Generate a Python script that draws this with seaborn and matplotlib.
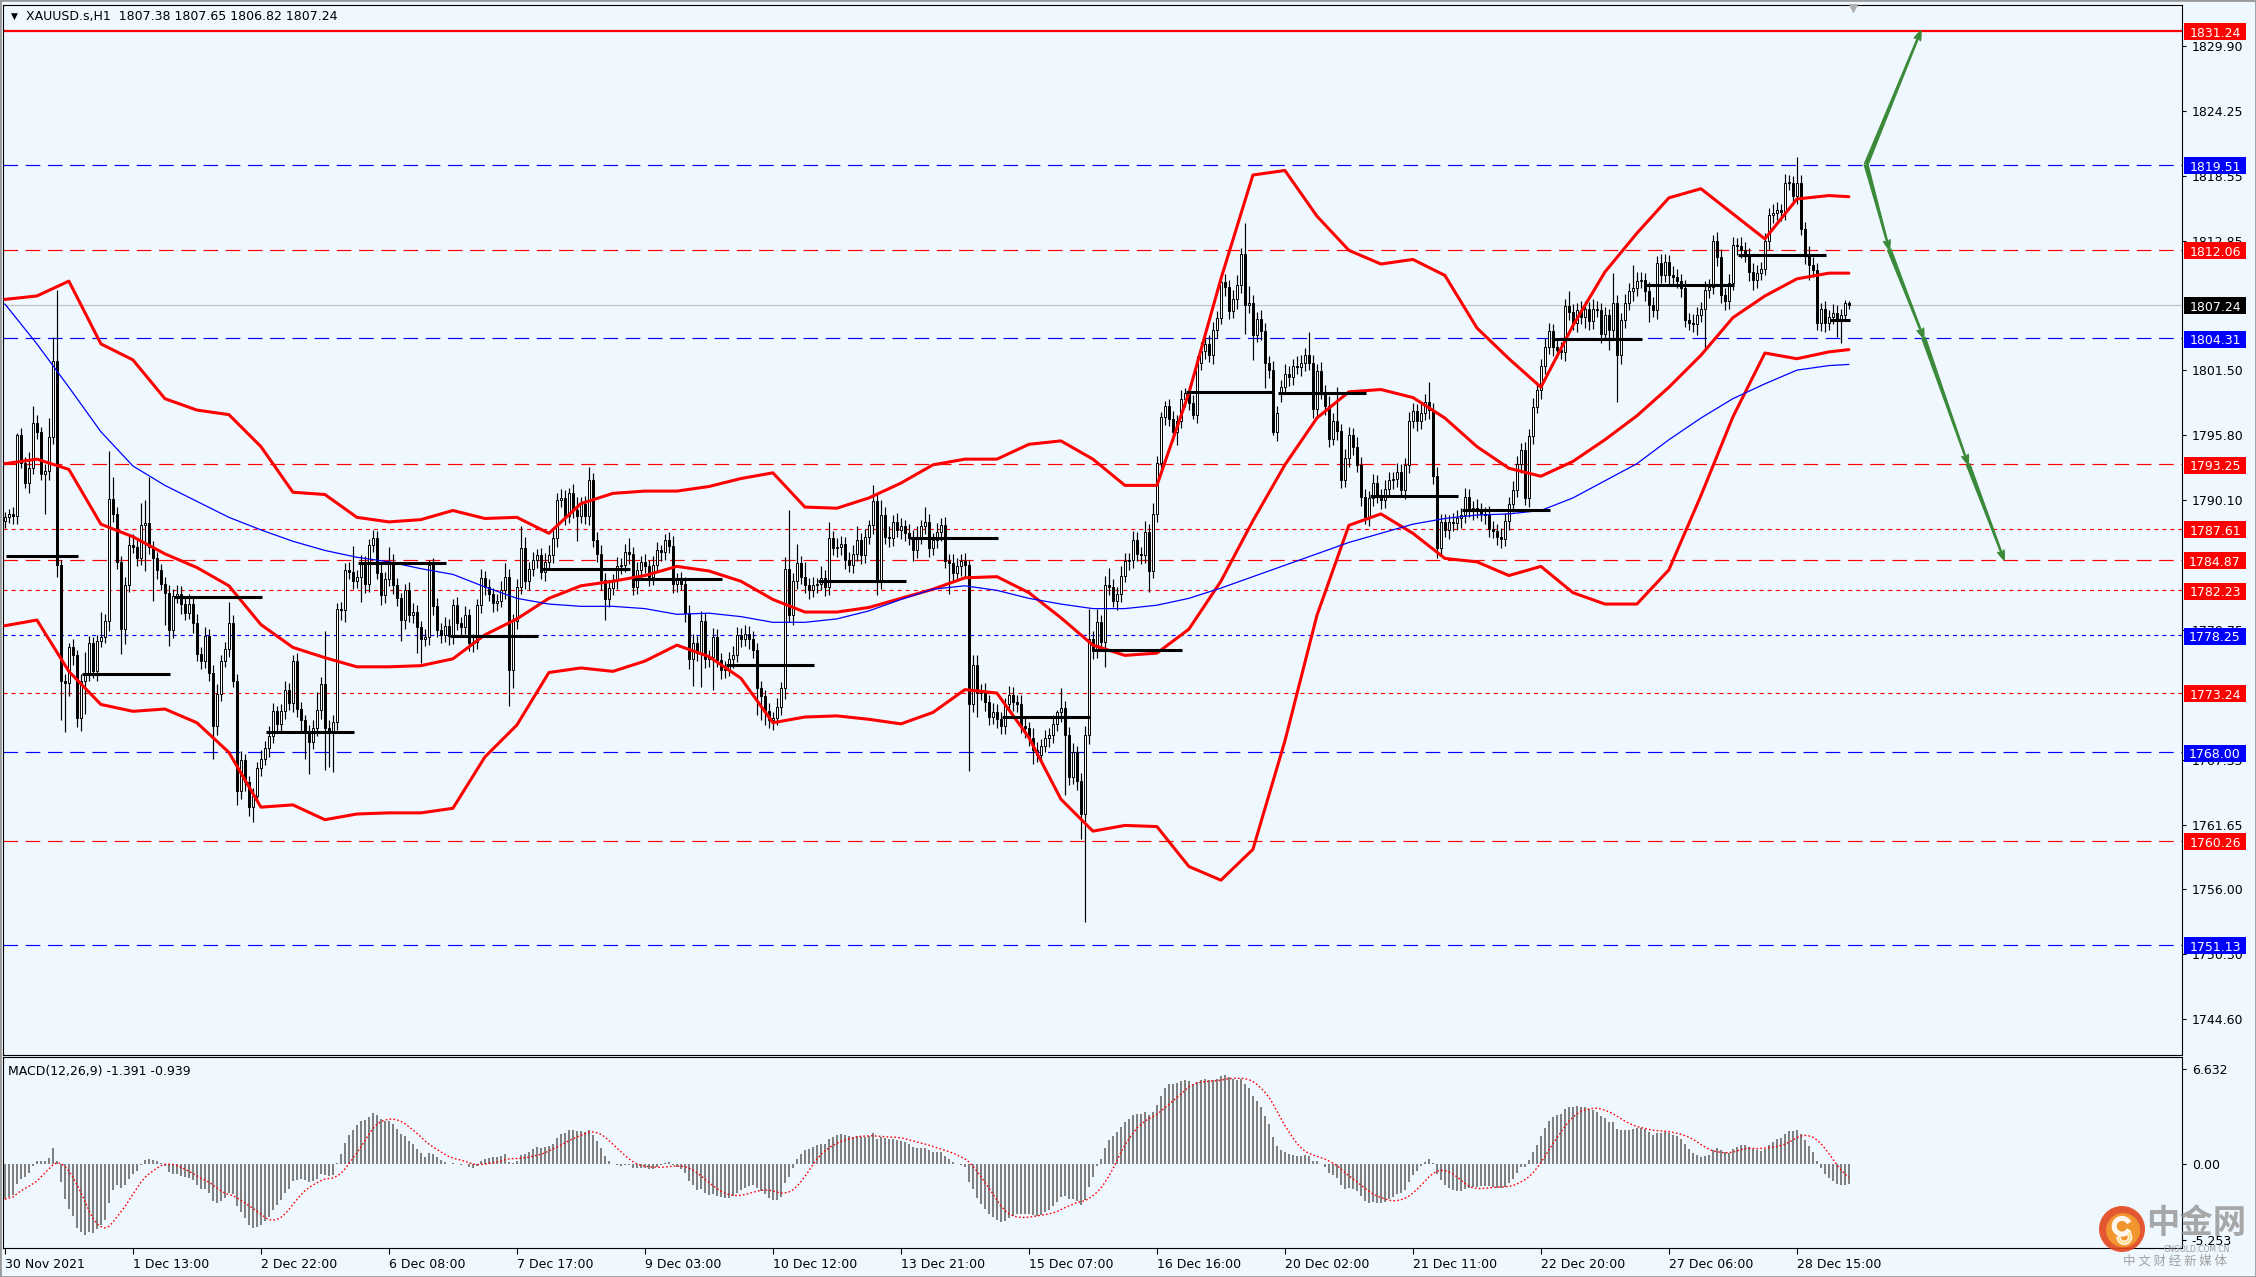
import numpy as np
import pandas as pd
import matplotlib
matplotlib.use("Agg")
import matplotlib.pyplot as plt
import matplotlib.transforms as mtransforms
from matplotlib.patches import Rectangle, Circle, Wedge
import seaborn as sns

# ---------------------------------------------------------------- data
symbol_header = "XAUUSD.s,H1  1807.38 1807.65 1806.82 1807.24"
macd_header = "MACD(12,26,9) -1.391 -0.939"

# H1 closes, bar 0 = 30 Nov 04:00 ... bar 461 = 29 Dec 05:00
closes = [
    1788.6, 1788.9, 1788.7, 1795.8, 1793.4, 1791.6, 1792.9, 1796.9, 1796.1, 1792.4,
    1792.7, 1795.6, 1802.3, 1784.4, 1774.3, 1774.1, 1777.2, 1776.5, 1771.0, 1774.3,
    1775.0, 1777.6, 1775.1, 1777.8, 1778.1, 1779.5, 1790.2, 1788.9, 1784.7, 1778.8,
    1782.7, 1786.2, 1786.0, 1785.0, 1787.9, 1788.1, 1786.0, 1785.0, 1784.0, 1782.8,
    1782.0, 1778.7, 1781.7, 1781.9, 1781.0, 1780.2, 1781.0, 1779.3, 1776.6, 1776.0,
    1778.2, 1775.0, 1770.3, 1773.1, 1776.0, 1777.1, 1779.3, 1774.3, 1764.6, 1767.3,
    1765.4, 1763.2, 1764.2, 1766.6, 1767.4, 1768.4, 1769.4, 1771.6, 1770.5, 1771.6,
    1773.5, 1772.3, 1776.0, 1771.8, 1770.8, 1769.8, 1768.9, 1770.1, 1771.7, 1774.0,
    1770.1, 1769.8, 1770.7, 1780.6, 1780.5, 1784.0, 1783.8, 1783.0, 1783.4, 1784.6,
    1782.8, 1786.2, 1786.8, 1783.7, 1781.8, 1783.2, 1784.7, 1782.7, 1781.5, 1779.6,
    1782.2, 1780.0, 1780.3, 1779.0, 1777.9, 1778.1, 1784.4, 1780.8, 1778.7, 1778.3,
    1779.1, 1778.2, 1780.9, 1779.3, 1779.0, 1780.0, 1777.6, 1777.7, 1780.9, 1783.3,
    1782.5, 1781.9, 1781.1, 1781.3, 1782.2, 1783.4, 1775.2, 1779.5, 1782.5, 1785.9,
    1783.0, 1784.1, 1784.9, 1785.3, 1783.8, 1784.7, 1785.3, 1786.8, 1790.1, 1790.3,
    1788.7, 1790.7, 1789.2, 1788.7, 1789.8, 1788.7, 1791.9, 1786.6, 1785.4, 1783.1,
    1781.4, 1782.4, 1783.1, 1784.3, 1784.4, 1785.6, 1785.4, 1782.5, 1784.0, 1784.7,
    1784.3, 1783.4, 1784.4, 1785.7, 1785.6, 1786.6, 1786.1, 1782.8, 1783.1, 1782.8,
    1780.2, 1776.2, 1777.6, 1776.7, 1779.5, 1776.2, 1776.4, 1778.1, 1776.1, 1775.2,
    1775.3, 1776.2, 1776.5, 1778.3, 1777.9, 1778.4, 1777.9, 1777.0, 1773.6, 1772.9,
    1771.6, 1770.8, 1771.0, 1772.0, 1773.6, 1784.1, 1780.0, 1783.0, 1784.6, 1783.4,
    1782.7, 1782.2, 1782.7, 1782.8, 1783.3, 1782.5, 1786.8, 1785.9, 1786.0, 1786.3,
    1784.9, 1784.4, 1785.4, 1786.6, 1785.3, 1786.9, 1787.9, 1790.0, 1783.0, 1788.8,
    1786.9, 1786.8, 1788.2, 1787.5, 1787.8, 1787.2, 1786.8, 1785.7, 1786.9, 1787.8,
    1788.2, 1785.9, 1786.6, 1787.3, 1787.9, 1784.8, 1784.6, 1783.7, 1784.3, 1784.8,
    1784.4, 1772.2, 1775.7, 1773.2, 1773.4, 1772.4, 1771.1, 1771.5, 1770.9, 1770.3,
    1772.2, 1773.0, 1772.4, 1772.2, 1770.3, 1770.1, 1769.3, 1768.2, 1767.8, 1768.6,
    1769.3, 1769.5, 1770.5, 1771.5, 1771.9, 1769.5, 1765.8, 1768.0, 1765.5, 1762.6,
    1769.5, 1777.9, 1776.9, 1779.4, 1777.7, 1782.7, 1782.5, 1781.3, 1781.9, 1783.5,
    1784.8, 1784.9, 1786.6, 1785.4, 1785.3, 1787.3, 1783.9, 1788.9, 1793.4, 1797.4,
    1798.4, 1797.2, 1796.1, 1797.0, 1799.0, 1799.5, 1798.6, 1797.6, 1802.1, 1803.2,
    1803.8, 1802.8, 1805.0, 1806.1, 1809.2, 1808.8, 1806.7, 1807.7, 1809.0, 1811.7,
    1807.2, 1807.4, 1804.6, 1806.0, 1804.9, 1802.1, 1801.5, 1796.1, 1797.7, 1800.0,
    1801.2, 1800.9, 1801.9, 1801.8, 1802.1, 1802.8, 1802.1, 1798.1, 1801.4, 1799.6,
    1798.4, 1795.5, 1797.0, 1796.2, 1791.9, 1793.8, 1795.8, 1794.8, 1793.2, 1790.4,
    1788.6, 1790.3, 1791.6, 1790.5, 1790.1, 1791.1, 1791.9, 1792.0, 1792.6, 1791.0,
    1793.2, 1797.0, 1797.9, 1797.0, 1797.7, 1798.7, 1798.0, 1792.2, 1785.9, 1788.2,
    1787.5, 1788.2, 1788.1, 1788.5, 1788.8, 1790.4, 1789.2, 1789.4, 1789.2, 1788.9,
    1788.8, 1787.6, 1787.4, 1786.9, 1786.7, 1788.3, 1789.8, 1791.0, 1793.3, 1794.5,
    1790.3, 1795.7, 1798.3, 1799.8, 1801.9, 1803.5, 1804.9, 1803.5, 1803.3, 1803.1,
    1807.1, 1806.6, 1805.6, 1806.8, 1806.2, 1806.9, 1805.8, 1806.9, 1806.8, 1804.7,
    1806.3, 1805.0, 1807.4, 1802.8, 1805.9, 1807.4, 1808.4, 1808.7, 1809.3, 1809.4,
    1808.4, 1807.2, 1806.8, 1810.9, 1809.8, 1811.0, 1809.8, 1809.7, 1809.3, 1808.7,
    1805.9, 1805.6, 1805.5, 1806.3, 1806.9, 1808.5, 1808.8, 1812.8, 1811.4, 1808.1,
    1807.6, 1809.1, 1812.5, 1812.4, 1812.0, 1811.6, 1810.1, 1809.4, 1810.0, 1810.4,
    1812.8, 1815.1, 1815.3, 1815.5, 1815.4, 1817.9, 1817.9, 1816.8, 1817.9, 1813.9,
    1811.6, 1810.7, 1810.3, 1805.6, 1806.9, 1805.6, 1806.2, 1806.5, 1805.9, 1806.3,
    1807.38, 1807.24,
]

# upper shadow length above the body
hi_wick = [
    0.5, 0.4, 0.6, 0.2, 0.6, 0.5, 1.4, 1.5, 0.7, 0.4,
    0.6, 1.7, 2.1, 6.2, 0.5, 0.6, 0.4, 0.7, 0.5, 0.6,
    1.8, 0.6, 0.5, 0.5, 2.2, 0.6, 4.2, 1.9, 0.6, 0.5,
    0.7, 0.8, 0.9, 0.6, 2.0, 2.0, 4.0, 0.5, 0.6, 0.5,
    0.6, 0.7, 0.6, 0.8, 0.7, 0.5, 0.9, 0.6, 0.8, 0.6,
    0.8, 0.6, 0.7, 0.9, 0.5, 0.6, 1.9, 0.7, 0.6, 0.8,
    0.6, 0.5, 0.7, 0.6, 0.8, 0.6, 0.9, 0.7, 0.5, 0.6,
    0.8, 0.6, 0.5, 0.7, 0.6, 0.5, 0.6, 0.7, 1.6, 0.6,
    4.6, 0.7, 0.6, 0.5, 0.6, 0.6, 0.7, 2.3, 0.6, 0.7,
    0.6, 0.5, 0.7, 0.6, 0.8, 0.6, 1.3, 0.7, 0.6, 0.5,
    0.6, 0.7, 0.8, 0.6, 0.5, 0.7, 0.5, 0.6, 0.7, 0.6,
    0.8, 0.6, 0.5, 0.7, 0.6, 0.8, 0.6, 0.7, 0.5, 0.8,
    0.6, 0.7, 0.5, 0.6, 0.8, 1.2, 0.7, 0.6, 0.7, 1.9,
    1.0, 0.6, 0.7, 0.5, 0.6, 0.8, 0.9, 0.7, 0.6, 0.8,
    0.7, 0.5, 0.8, 1.2, 0.6, 0.7, 1.1, 0.6, 0.7, 0.8,
    0.6, 0.7, 0.5, 0.8, 0.6, 0.7, 1.2, 0.6, 0.7, 0.5,
    0.7, 0.6, 0.8, 0.7, 0.5, 0.5, 0.7, 0.9, 0.6, 0.7,
    0.6, 0.7, 0.8, 0.6, 0.9, 0.7, 0.6, 0.8, 0.7, 0.6,
    0.7, 0.6, 0.8, 0.7, 0.6, 0.8, 0.7, 0.7, 0.6, 0.7,
    0.6, 0.7, 0.5, 0.8, 0.6, 1.0, 5.1, 0.7, 1.7, 0.6,
    1.3, 0.6, 0.7, 0.5, 1.0, 0.7, 1.4, 0.6, 0.8, 0.7,
    0.6, 0.7, 0.8, 1.2, 0.6, 0.7, 0.5, 1.4, 0.7, 1.3,
    0.7, 0.9, 0.6, 0.8, 0.7, 0.6, 0.8, 0.7, 0.9, 0.6,
    1.3, 0.7, 0.6, 0.8, 0.6, 0.7, 0.6, 0.8, 0.7, 0.6,
    0.7, 0.5, 0.8, 0.8, 0.6, 0.7, 0.6, 0.8, 0.7, 0.6,
    0.6, 0.8, 0.7, 0.6, 0.8, 0.7, 0.6, 0.8, 0.7, 0.6,
    0.7, 0.6, 0.8, 0.2, 1.7, 0.6, 0.7, 0.8, 0.6, 0.7,
    0.8, 2.7, 0.7, 1.2, 0.6, 0.8, 1.5, 0.7, 0.6, 0.8,
    0.7, 0.6, 0.8, 0.7, 0.6, 1.0, 0.7, 1.0, 0.6, 0.4,
    0.4, 0.6, 0.7, 0.6, 0.8, 0.4, 0.6, 0.7, 0.6, 0.8,
    0.6, 0.8, 0.7, 0.6, 0.8, 0.7, 0.6, 0.8, 0.8, 0.5,
    2.7, 1.5, 0.7, 0.6, 0.8, 0.7, 0.6, 0.8, 0.7, 0.6,
    0.8, 0.7, 0.6, 0.8, 0.7, 0.6, 2.0, 0.7, 0.6, 0.8,
    0.6, 0.8, 0.7, 3.0, 0.6, 0.8, 0.7, 0.6, 0.8, 0.7,
    0.7, 0.6, 0.8, 0.7, 0.6, 0.8, 0.7, 0.6, 0.8, 0.7,
    0.6, 0.8, 0.7, 0.6, 0.8, 0.7, 1.8, 0.6, 0.8, 0.7,
    0.7, 0.6, 0.8, 0.7, 0.6, 0.8, 0.7, 0.6, 0.8, 0.7,
    0.6, 0.8, 0.7, 0.6, 0.8, 0.7, 0.6, 0.8, 0.7, 0.6,
    0.7, 0.6, 0.8, 0.7, 0.6, 0.8, 0.7, 0.6, 0.8, 0.7,
    0.6, 1.3, 0.7, 0.6, 0.8, 0.7, 0.6, 0.8, 0.7, 0.6,
    0.7, 0.6, 2.6, 0.7, 0.6, 0.8, 0.7, 2.0, 0.8, 0.7,
    0.6, 0.8, 0.7, 0.6, 0.8, 0.7, 0.6, 0.8, 0.7, 0.6,
    0.7, 0.6, 0.8, 0.7, 0.6, 0.8, 0.7, 0.5, 0.8, 0.7,
    0.6, 0.8, 0.7, 0.6, 0.8, 0.7, 0.6, 0.8, 0.7, 0.6,
    0.7, 0.6, 0.8, 0.7, 0.6, 0.8, 0.7, 0.6, 2.3, 0.7,
    0.6, 0.8, 0.7, 0.6, 0.5, 0.7, 0.6, 0.8, 0.7, 0.6,
    0.27, 0.14,
]

# lower shadow length below the body
lo_wick = [
    0.6, 0.5, 0.7, 0.7, 0.5, 0.4, 0.9, 0.5, 0.6, 0.5,
    3.5, 0.8, 0.6, 1.0, 3.5, 4.3, 1.2, 0.8, 0.8, 1.1,
    2.9, 0.7, 0.6, 0.8, 0.6, 0.5, 0.9, 0.7, 0.6, 2.2,
    1.3, 0.6, 0.5, 0.7, 0.6, 4.0, 0.6, 3.7, 0.8, 0.6,
    2.8, 1.4, 0.7, 0.6, 0.9, 0.6, 0.5, 0.8, 0.6, 0.7,
    0.6, 0.7, 2.9, 0.8, 0.6, 0.5, 0.7, 0.6, 1.2, 0.7,
    0.8, 0.8, 1.3, 0.6, 0.7, 0.5, 0.8, 0.6, 0.7, 0.6,
    0.7, 0.6, 0.8, 0.7, 0.9, 2.4, 2.8, 0.6, 0.7, 0.8,
    3.6, 3.1, 3.5, 0.7, 0.9, 1.1, 0.6, 0.7, 0.6, 2.2,
    0.8, 0.7, 0.6, 0.5, 0.9, 0.7, 0.6, 0.8, 0.7, 1.8,
    0.8, 0.6, 0.7, 2.3, 2.1, 0.6, 0.7, 0.8, 0.6, 0.7,
    0.6, 0.8, 0.7, 0.6, 0.9, 0.6, 0.7, 0.8, 0.6, 0.7,
    0.7, 0.6, 0.8, 0.7, 0.6, 0.8, 3.1, 1.6, 0.7, 0.6,
    0.7, 0.8, 0.6, 0.7, 0.6, 0.8, 0.6, 0.7, 0.8, 0.6,
    0.8, 0.6, 0.7, 2.2, 0.6, 0.7, 0.8, 0.6, 0.7, 0.9,
    1.8, 0.7, 0.6, 0.8, 0.7, 0.6, 0.9, 0.7, 0.6, 0.8,
    0.6, 0.8, 0.7, 0.6, 0.8, 0.7, 0.6, 0.8, 0.7, 0.6,
    0.8, 0.9, 2.4, 0.7, 3.0, 0.8, 0.7, 2.9, 0.6, 0.8,
    0.7, 0.6, 0.8, 0.6, 0.7, 0.6, 0.8, 0.7, 2.3, 2.1,
    1.2, 0.7, 0.8, 0.6, 0.7, 0.9, 0.6, 0.8, 0.7, 0.6,
    0.7, 0.8, 0.6, 0.7, 0.6, 0.8, 0.7, 0.6, 0.8, 0.7,
    0.8, 0.6, 0.7, 0.6, 0.8, 0.7, 0.6, 0.8, 1.2, 0.7,
    0.6, 0.8, 0.7, 0.6, 0.8, 0.7, 0.6, 0.9, 0.7, 0.6,
    0.7, 0.8, 0.6, 0.7, 0.8, 0.6, 2.7, 0.7, 0.6, 0.8,
    1.1, 5.8, 0.7, 2.1, 0.6, 0.8, 0.7, 0.6, 0.8, 0.7,
    0.7, 0.6, 0.8, 0.7, 0.6, 0.8, 0.7, 1.2, 0.6, 0.7,
    0.6, 0.8, 0.7, 0.6, 0.8, 5.2, 0.7, 0.6, 0.8, 2.2,
    9.5, 0.8, 0.7, 0.6, 0.8, 2.2, 0.7, 0.6, 0.8, 0.7,
    0.6, 0.8, 0.7, 0.6, 0.8, 0.7, 1.8, 0.6, 0.7, 0.6,
    0.7, 0.6, 0.8, 1.2, 0.6, 0.7, 0.6, 0.4, 0.7, 0.6,
    0.7, 0.6, 0.8, 0.7, 0.6, 0.8, 0.7, 0.6, 0.8, 0.7,
    2.5, 0.7, 2.2, 0.6, 0.8, 2.2, 0.7, 0.3, 0.8, 0.7,
    0.6, 0.8, 0.7, 0.6, 0.8, 0.7, 0.6, 0.8, 0.7, 0.6,
    0.8, 0.7, 0.6, 0.8, 0.7, 0.6, 0.8, 0.7, 0.6, 0.8,
    0.6, 0.8, 0.7, 0.6, 0.8, 0.7, 0.6, 0.8, 0.7, 0.6,
    0.8, 0.7, 0.6, 0.8, 0.7, 0.6, 0.8, 0.7, 0.9, 0.6,
    0.6, 0.8, 0.7, 0.6, 0.8, 0.7, 0.6, 0.8, 0.7, 0.6,
    0.8, 0.7, 0.6, 0.7, 0.8, 0.6, 0.8, 0.7, 0.6, 0.8,
    0.6, 0.8, 0.7, 0.6, 0.8, 0.7, 0.6, 0.8, 0.7, 0.6,
    0.8, 0.7, 0.6, 0.8, 0.7, 1.0, 0.8, 0.7, 0.6, 0.8,
    0.6, 1.7, 0.7, 4.1, 0.8, 0.7, 0.6, 0.8, 0.7, 0.6,
    0.8, 1.5, 0.6, 0.8, 0.7, 0.6, 0.8, 0.7, 0.6, 0.8,
    0.6, 0.6, 0.7, 0.9, 0.6, 3.6, 0.7, 0.6, 0.8, 0.7,
    0.8, 0.7, 0.6, 0.8, 0.7, 0.6, 0.8, 0.9, 0.7, 0.6,
    0.6, 0.8, 0.7, 0.6, 0.8, 0.7, 0.6, 0.8, 0.7, 0.6,
    0.8, 1.3, 0.6, 0.6, 0.7, 0.8, 0.6, 0.7, 1.5, 2.0,
    0.42, 0.42,
]

first_open = 1788.3
gap_open_bars = [319]
gap_open_prices = [1799.4]

# Bollinger bands (red) and slow moving average (blue), read every 8 bars
band_bars = [0, 8, 16, 24, 32, 40, 48, 56, 64, 72, 80, 88, 96, 104, 112, 120, 128, 136,
             144, 152, 160, 168, 176, 184, 192, 200, 208, 216, 224, 232, 240, 248, 256,
             264, 272, 280, 288, 296, 304, 312, 320, 328, 336, 344, 352, 360, 368, 376,
             384, 392, 400, 408, 416, 424, 432, 440, 448, 456, 461]
bb_upper = [1807.7, 1808.0, 1809.3, 1803.8, 1802.4, 1799.0, 1798.0, 1797.6, 1794.8, 1790.8,
            1790.6, 1788.6, 1788.2, 1788.4, 1789.2, 1788.5, 1788.6, 1787.2, 1789.8, 1790.7,
            1790.9, 1790.9, 1791.3, 1792.0, 1792.5, 1789.5, 1789.4, 1790.3, 1791.6, 1793.2,
            1793.7, 1793.7, 1795.0, 1795.3, 1793.7, 1791.4, 1791.4, 1799.5, 1809.5, 1818.6,
            1819.0, 1815.0, 1812.0, 1810.8, 1811.2, 1809.8, 1805.2, 1802.5, 1800.0, 1805.4,
            1810.1, 1813.5, 1816.6, 1817.4, 1815.2, 1813.0, 1816.5, 1816.8, 1816.7]
bb_middle = [1793.3, 1793.7, 1792.8, 1788.0, 1786.9, 1785.4, 1784.2, 1782.6, 1779.2, 1777.2,
             1776.3, 1775.5, 1775.5, 1775.6, 1776.2, 1778.3, 1779.7, 1781.5, 1782.6, 1783.0,
             1783.5, 1784.3, 1783.9, 1783.0, 1781.4, 1780.3, 1780.3, 1780.7, 1781.5, 1782.3,
             1783.3, 1783.4, 1782.0, 1779.8, 1777.4, 1776.5, 1776.7, 1778.8, 1783.0, 1788.3,
             1793.2, 1797.3, 1799.6, 1799.8, 1799.1, 1797.3, 1794.8, 1792.9, 1792.2, 1793.5,
             1795.4, 1797.5, 1800.0, 1802.8, 1806.1, 1808.0, 1809.5, 1810.0, 1810.0]
bb_lower = [1779.1, 1779.6, 1775.1, 1772.2, 1771.6, 1771.8, 1770.6, 1768.0, 1763.2, 1763.4,
            1762.1, 1762.6, 1762.7, 1762.7, 1763.1, 1767.6, 1770.4, 1775.0, 1775.4, 1775.1,
            1776.0, 1777.4, 1776.4, 1774.5, 1770.6, 1771.1, 1771.2, 1770.9, 1770.5, 1771.5,
            1773.5, 1773.2, 1769.3, 1763.9, 1761.1, 1761.6, 1761.5, 1758.0, 1756.8, 1759.5,
            1769.0, 1780.0, 1787.9, 1788.9, 1787.2, 1785.0, 1784.7, 1783.5, 1784.3, 1782.0,
            1781.0, 1781.0, 1784.0, 1790.5, 1797.4, 1803.0, 1802.5, 1803.1, 1803.3]
ma_blue = [1807.3, 1803.8, 1800.0, 1796.1, 1793.1, 1791.4, 1790.0, 1788.6, 1787.5, 1786.5,
           1785.7, 1785.1, 1784.7, 1784.1, 1783.6, 1782.5, 1781.5, 1781.0, 1780.8, 1780.8,
           1780.6, 1780.1, 1780.2, 1779.9, 1779.4, 1779.4, 1779.7, 1780.4, 1781.4, 1782.3,
           1782.6, 1782.2, 1781.5, 1781.0, 1780.6, 1780.6, 1780.9, 1781.5, 1782.4, 1783.4,
           1784.4, 1785.4, 1786.4, 1787.2, 1788.0, 1788.5, 1788.8, 1788.9, 1789.2, 1790.3,
           1791.8, 1793.3, 1795.4, 1797.3, 1799.0, 1800.3, 1801.5, 1801.9, 1802.0]

# daily level segments (one per trading day)
day_start_bars = [0, 20, 43, 66, 89, 112, 135, 158, 181, 204, 227, 250, 273, 296, 319,
                  342, 365, 388, 411, 434, 457]
day_levels = [1785.2, 1774.9, 1781.6, 1769.8, 1784.6, 1778.2, 1784.1, 1783.2, 1775.7, 1783.0,
              1786.8, 1771.1, 1777.0, 1799.6, 1799.5, 1790.5, 1789.2, 1804.2, 1809.0, 1811.6,
              1805.9]

# horizontal price levels
level_prices = [1831.24, 1819.51, 1812.06, 1807.24, 1804.31, 1793.25, 1787.61, 1784.87,
                1782.23, 1778.25, 1773.24, 1768.00, 1760.26, 1751.13]
level_colors = ["#FF0000", "#0000FF", "#FF0000", "#C0C0C0", "#0000FF", "#FF0000", "#FF0000",
                "#FF0000", "#FF0000", "#0000FF", "#FF0000", "#0000FF", "#FF0000", "#0000FF"]
level_styles = ["solid", "dashed", "dashed", "solid", "dashed", "dashed", "dotted", "dashed",
                "dotted", "dotted", "dotted", "dashed", "dashed", "dashed"]
label_colors = ["#FF0000", "#0000FF", "#FF0000", "#000000", "#0000FF", "#FF0000", "#FF0000",
                "#FF0000", "#FF0000", "#0000FF", "#FF0000", "#0000FF", "#FF0000", "#0000FF"]

# price-scale labels shown by the reference (1807.15, 1784.40, 1773.05 are hidden there)
price_ticks = [1829.90, 1824.25, 1818.55, 1812.85, 1801.50, 1795.80, 1790.10,
               1778.75, 1767.35, 1761.65, 1756.00, 1750.30, 1744.60]
macd_ticks = [6.632, 0.0, -5.253]
macd_tick_labels = ["6.632", "0.00", "-5.253"]

time_tick_bars = [0, 32, 64, 96, 128, 160, 192, 224, 256, 288, 320, 352, 384, 416, 448]
time_tick_labels = ["30 Nov 2021", "1 Dec 13:00", "2 Dec 22:00", "6 Dec 08:00", "7 Dec 17:00",
                    "9 Dec 03:00", "10 Dec 12:00", "13 Dec 21:00", "15 Dec 07:00",
                    "16 Dec 16:00", "20 Dec 02:00", "21 Dec 11:00", "22 Dec 20:00",
                    "27 Dec 06:00", "28 Dec 15:00"]

# forecast arrows (bar, price)
arrow_up_bars = [465.3, 479.0]
arrow_up_prices = [1819.51, 1831.24]
arrow_down_bars = [465.3, 471.1, 479.7, 490.8, 499.8]
arrow_down_prices = [1819.51, 1812.06, 1804.31, 1793.25, 1784.87]

ema_fast_seed = 1789.0
ema_slow_seed = 1791.6

# ---------------------------------------------------------------- style
sns.set_theme(style="white")
plt.rcParams["font.family"] = ["DejaVu Sans"]
plt.rcParams["lines.scale_dashes"] = False
plt.rcParams["axes.linewidth"] = 0.8

BG = "#F0F8FF"
RED = "#FF0000"
BLUE = "#0000FF"
GREEN = "#3A8A3A"
W, H = 2256, 1277

def fx(px):
    return px / W

def fy(py):
    return 1 - py / H

# ---------------------------------------------------------------- derived series
n = min(len(closes), len(hi_wick), len(lo_wick))
bars = np.arange(n)
c = np.array(closes[:n], dtype=float)
o = np.empty(n)
o[0] = first_open
o[1:] = c[:-1]
for b, p in zip(gap_open_bars, gap_open_prices):
    if b < n:
        o[b] = p
body_top = np.maximum(o, c)
body_bot = np.minimum(o, c)
highs = body_top + np.array(hi_wick[:n])
lows = body_bot - np.array(lo_wick[:n])

af, aslow = 2.0 / 13.0, 2.0 / 27.0
ef, es = ema_fast_seed, ema_slow_seed
macd = np.empty(n)
for t in range(n):
    ef = af * c[t] + (1 - af) * ef
    es = aslow * c[t] + (1 - aslow) * es
    macd[t] = ef - es
signal = pd.Series(macd).rolling(9, min_periods=1).mean().values

# ---------------------------------------------------------------- figure
fig = plt.figure(figsize=(W / 100, H / 100), dpi=100, facecolor=BG)
x_left, x_right = 3, 2182
ax = fig.add_axes([fx(x_left), fy(1055), fx(x_right) - fx(x_left), fy(5) - fy(1055)])
ax2 = fig.add_axes([fx(x_left), fy(1248), fx(x_right) - fx(x_left), fy(1057) - fy(1248)])
for a in (ax, ax2):
    a.set_facecolor(BG)
    for s in a.spines.values():
        s.set_color("black")
        s.set_linewidth(0.8)
    a.grid(False)

xmin = (x_left - 4.9) / 4.0
xmax = (x_right - 4.9) / 4.0
ymin, ymax = 1741.48, 1833.50
ax.set_xlim(xmin, xmax)
ax.set_ylim(ymin, ymax)
ax2.set_xlim(xmin, xmax)
ax2.set_ylim(-5.82, 7.45)

# horizontal levels
dash_map = {"solid": "-", "dashed": (0, (10.5, 5.5)), "dotted": (0, (2.9, 2.9))}
for p, col, st in zip(level_prices, level_colors, level_styles):
    lw = 1.6 if (st == "solid" and col == RED) else 0.85
    ax.axhline(p, color=col, linewidth=lw, linestyle=dash_map[st], zorder=1)

# candles
ax.vlines(bars, lows, highs, color="black", linewidth=0.85, zorder=3)
faces = ["white" if cc >= oo else "black" for oo, cc in zip(o, c)]
ax.bar(bars, np.maximum(body_top - body_bot, 0.07), bottom=body_bot, width=0.55,
       color=faces, edgecolor="black", linewidth=0.7, zorder=4)

# bands and moving average
for vals in (bb_upper, bb_middle, bb_lower):
    sns.lineplot(x=band_bars, y=vals, ax=ax, color=RED, linewidth=2.2, zorder=5,
                 sort=False, estimator=None, legend=False)
sns.lineplot(x=band_bars, y=ma_blue, ax=ax, color=BLUE, linewidth=0.9, zorder=5,
             sort=False, estimator=None, legend=False)

# daily level segments
seg_start = [max(s - 0.7, 0.2) for s in day_start_bars]
seg_end = [s - 1.7 for s in day_start_bars[1:]] + [n - 0.7]
ax.hlines(day_levels, seg_start, seg_end, color="black", linewidth=2.2, zorder=6)

# forecast arrows
astyle = "fancy,head_length=0.9,head_width=0.65,tail_width=0.35"
ax.annotate("", xy=(arrow_up_bars[1], arrow_up_prices[1]),
            xytext=(arrow_up_bars[0], arrow_up_prices[0]),
            arrowprops=dict(arrowstyle=astyle, color=GREEN, mutation_scale=7.5,
                            shrinkA=0, shrinkB=0), annotation_clip=False, zorder=7)
for k in range(len(arrow_down_bars) - 1):
    ax.annotate("", xy=(arrow_down_bars[k + 1], arrow_down_prices[k + 1]),
                xytext=(arrow_down_bars[k], arrow_down_prices[k]),
                arrowprops=dict(arrowstyle=astyle, color=GREEN, mutation_scale=7.5,
                                shrinkA=0, shrinkB=0), annotation_clip=False, zorder=7)

# axis ticks main
ax.set_xticks([])
ax.yaxis.tick_right()
ax.set_yticks(price_ticks)
ax.set_yticklabels([f"{t:.2f}" for t in price_ticks])
ax.tick_params(axis="y", right=True, left=False, length=3, width=0.8, pad=4,
               labelsize=9, colors="black")
ax.set_xlabel("")
ax.set_ylabel("")

# price label boxes on the right
tr = mtransforms.blended_transform_factory(fig.transFigure, ax.transData)
ppp = (1055 - 5) / (ymax - ymin)
bh = 17.0 / ppp
boff = 1.0 / ppp
for p, col in zip(level_prices, label_colors):
    ax.add_patch(Rectangle((fx(2184), p - bh / 2 - boff), 62 / W, bh, transform=tr,
                           facecolor=col, edgecolor="none", zorder=10, clip_on=False))
    ax.text(fx(2215), p - boff, f"{p:.2f}", transform=tr, color="white", fontsize=9,
            ha="center", va="center_baseline", zorder=11, clip_on=False)

# shift marker
ax.scatter([462], [ymax - 0.25], marker="v", s=30, color="#B0B0B0", zorder=8, clip_on=False)

# MACD panel
ax2.bar(bars, macd, width=0.6, color="#808080", linewidth=0, zorder=3)
sns.lineplot(x=bars, y=signal, ax=ax2, color=RED, linewidth=1.0,
             linestyle=(0, (1.2, 1.6)), zorder=4, sort=False, estimator=None, legend=False)
ax2.yaxis.tick_right()
ax2.set_yticks(macd_ticks)
ax2.set_yticklabels(macd_tick_labels)
ax2.tick_params(axis="y", right=True, left=False, length=3, width=0.8, pad=4,
                labelsize=9, colors="black")
ax2.set_xticks(time_tick_bars)
ax2.set_xticklabels(time_tick_labels, ha="left")
ax2.tick_params(axis="x", bottom=True, length=4, width=0.8, pad=3, labelsize=9,
                colors="black")
ax2.set_xlabel("")
ax2.set_ylabel("")

# headers
fig.text(fx(11), fy(16.5), "\u25BC", fontsize=6.5, color="black", va="center", ha="left")
fig.text(fx(26), fy(16.5), symbol_header, fontsize=9, color="black", va="center", ha="left")
fig.text(fx(8), fy(1071), macd_header, fontsize=9, color="black", va="center", ha="left")

# watermark logo
lax = fig.add_axes([fx(2099), fy(1252), 46 / W, 46 / H])
lax.set_xlim(-1, 1)
lax.set_ylim(-1, 1)
lax.set_aspect("equal")
lax.axis("off")
lax.add_patch(Circle((0, 0), 1.0, facecolor="#E2461C", edgecolor="none", alpha=0.9))
lax.add_patch(Circle((0.05, -0.05), 0.74, facecolor="#F29A2E", edgecolor="none", alpha=0.95))
lax.add_patch(Wedge((0.0, 0.12), 0.42, 30, 330, width=0.16, facecolor="white", alpha=0.9))
lax.add_patch(Wedge((0.1, -0.35), 0.32, 180, 60, width=0.14, facecolor="#FFE08A", alpha=0.9))
cjk = ["Noto Sans CJK SC", "DejaVu Sans"]
fig.text(fx(2196), fy(1224), "中金网", fontsize=24, color="#8C8C8C", alpha=0.75,
         ha="center", va="center", family=cjk, fontweight="bold")
fig.text(fx(2197), fy(1249), "CNGOLD.COM.CN", fontsize=5.5, color="#9A9A9A",
         ha="center", va="center")
fig.text(fx(2175), fy(1261), "中 文 财 经 新 媒 体", fontsize=9, color="#A0A0A0",
         ha="center", va="center", family=cjk)

# outer frame
fig.add_artist(Rectangle((0, 0), 1, 1, transform=fig.transFigure, fill=False,
                         edgecolor="#9A9A9A", linewidth=2))

fig.savefig("out.png", dpi=100, facecolor=BG)
